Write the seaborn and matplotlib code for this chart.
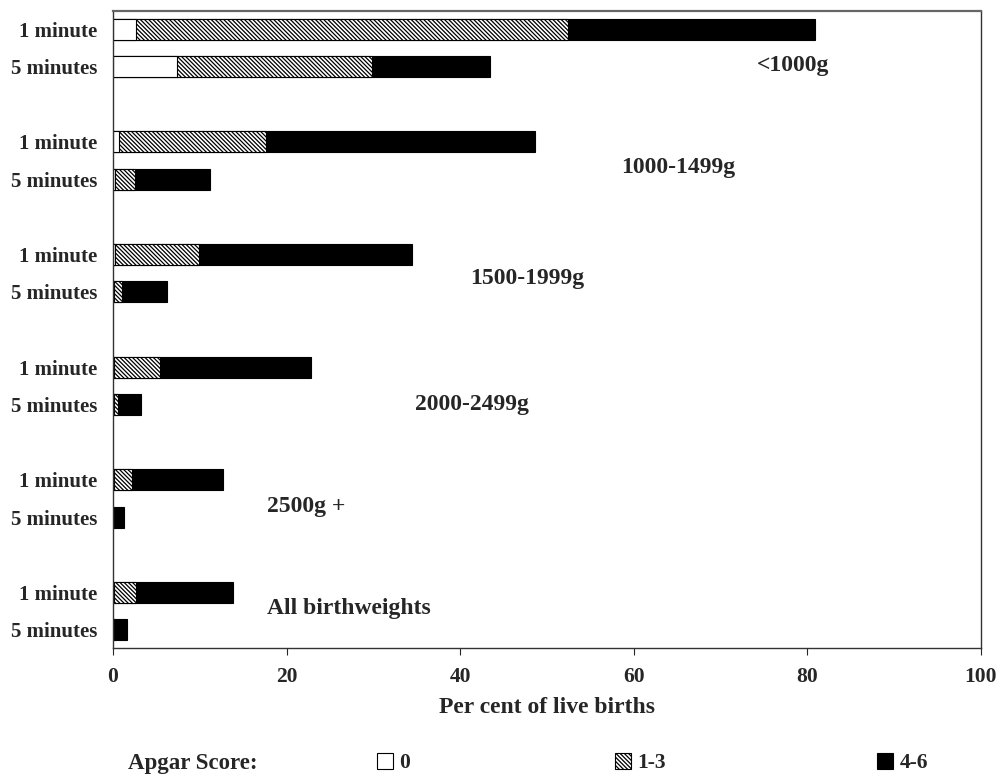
import matplotlib
matplotlib.use("Agg")
import matplotlib.pyplot as plt
from matplotlib.patches import Patch
import seaborn as sns
import pandas as pd

# ---- data ----
groups = ["<1000g", "1000-1499g", "1500-1999g", "2000-2499g", "2500g +", "All birthweights"]
times = ["1 minute", "5 minutes"]
score_0 = [2.6, 7.4, 0.7, 0.2, 0.2, 0.1, 0.1, 0.1, 0.1, 0.0, 0.1, 0.1]
score_1_3 = [49.8, 22.4, 16.9, 2.3, 9.7, 0.9, 5.3, 0.5, 2.1, 0.1, 2.6, 0.1]
score_4_6 = [28.5, 13.6, 31.0, 8.7, 24.6, 5.2, 17.4, 2.6, 10.5, 1.2, 11.1, 1.4]
legend_labels = ["0", "1-3", "4-6"]
xticks = [0, 20, 40, 60, 80, 100]

# ---- layout helpers ----
pos = []
tick_labels = []
for gi, g in enumerate(groups):
    for ti, t in enumerate(times):
        pos.append(gi * 3 + ti)
        tick_labels.append(t)

df = pd.DataFrame({"pos": pos, "s0": score_0, "s13": score_1_3, "s46": score_4_6})
df["cum0"] = df["s0"]
df["cum13"] = df["s0"] + df["s13"]
df["total"] = df["cum13"] + df["s46"]

sns.set_style("ticks")
plt.rcParams["font.family"] = ["Liberation Serif", "DejaVu Serif"]
plt.rcParams["font.weight"] = "bold"
plt.rcParams["hatch.linewidth"] = 0.9

fig = plt.figure(figsize=(10.03, 7.78), dpi=100)
ax = fig.add_axes([113 / 1003, 1 - 648 / 778, (981 - 113) / 1003, (648 - 11) / 778])

bw = 0.56
hatch = "\\" * 8
sns.barplot(data=df, x="total", y="pos", orient="h", native_scale=True, width=bw,
            color="black", edgecolor="black", linewidth=0.8, errorbar=None, ax=ax)
sns.barplot(data=df, x="cum13", y="pos", orient="h", native_scale=True, width=bw,
            facecolor="white", edgecolor="black", linewidth=0.8, hatch=hatch,
            errorbar=None, ax=ax)
sns.barplot(data=df, x="cum0", y="pos", orient="h", native_scale=True, width=bw,
            facecolor="white", edgecolor="black", linewidth=0.8, errorbar=None, ax=ax)

ax.set_xlim(0, 100)
ax.set_ylim(16.49, -0.49)
ax.set_xticks(xticks)
ax.set_xticklabels([str(v) for v in xticks], fontsize=15.5, fontweight="bold")
ax.set_yticks(pos)
ax.set_yticklabels(tick_labels, fontsize=15, fontweight="bold")
ax.tick_params(axis="y", length=0, pad=11.5)
ax.tick_params(axis="x", length=5, width=0.8, pad=9, direction="out")
ax.set_ylabel("")
ax.set_xlabel("Per cent of live births", fontsize=17, fontweight="bold", labelpad=7)

for side in ["top", "right", "bottom", "left"]:
    ax.spines[side].set_visible(True)
    ax.spines[side].set_linewidth(1.0)
    ax.spines[side].set_color("#333333")
ax.spines["top"].set_linewidth(1.6)
ax.spines["top"].set_color("#666666")

# group annotations (data coords)
label_x = [74.2, 58.5, 41.1, 34.8, 17.7, 17.7]
label_y = [0.95, 3.67, 6.63, 9.99, 12.73, 15.43]
for g, lx, ly in zip(groups, label_x, label_y):
    ax.text(lx, ly, g, fontsize=17, fontweight="bold", ha="left", va="center")

# legend
fig.text(128 / 1003, 1 - 763 / 778, "Apgar Score:", fontsize=16.5, fontweight="bold",
         ha="left", va="center")
handles = [
    Patch(facecolor="white", edgecolor="black", linewidth=0.8),
    Patch(facecolor="white", edgecolor="black", linewidth=0.8, hatch="\\" * 8),
    Patch(facecolor="black", edgecolor="black", linewidth=0.8),
]
leg_x = [377 / 1003, 615 / 1003, 877 / 1003]
for h, lab, lx in zip(handles, legend_labels, leg_x):
    leg = fig.legend(handles=[h], labels=[lab], loc="center left",
                     bbox_to_anchor=(lx, 1 - 763 / 778), frameon=False,
                     borderpad=0, borderaxespad=0, handlelength=0.75,
                     handleheight=0.75, handletextpad=0.3,
                     prop={"size": 15.5, "weight": "bold"})

fig.savefig("out.png", dpi=100)
